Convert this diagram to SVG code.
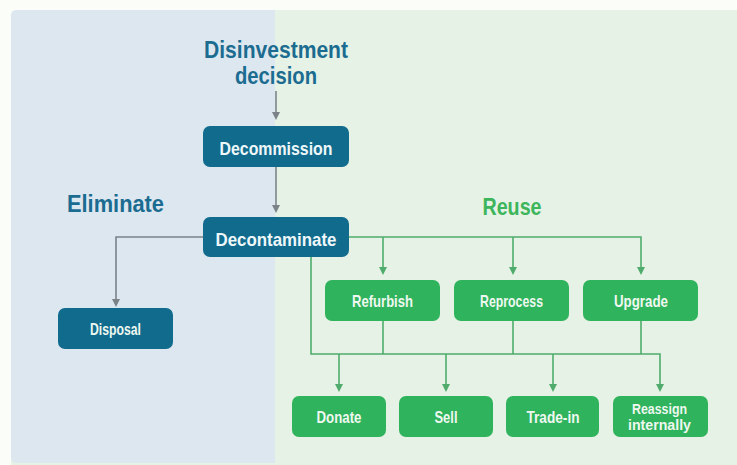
<svg xmlns="http://www.w3.org/2000/svg" width="737" height="465" viewBox="0 0 737 465">
<style>
.t{font-family:"Liberation Sans",Arial,sans-serif;font-weight:bold;text-anchor:middle}
.hb{fill:#1b6c90;font-size:24px}
.hg{fill:#3cb55b;font-size:24px}
.bb{fill:#106b8d}
.gb{fill:#2fb35c}
.lb{fill:#eef7fa;font-size:19px}
.ls{fill:#eef8f0;font-size:17px}
.cg{fill:none;stroke:#7b8389;stroke-width:1.6}
.cn{fill:none;stroke:#4fac6d;stroke-width:1.6}
</style>
<rect x="0" y="0" width="737" height="465" fill="#fbfdf9"/>
<g id="background">
<path d="M17,10 H737 V465 H11 V16 Q11,10 17,10 Z" fill="#e6f2e6"/>
<path d="M17,10 H275 V463 H17 Q11,463 11,457 V16 Q11,10 17,10 Z" fill="#dde7ef"/>
</g>
<g id="connectors">
<path class="cg" d="M276,91 V113"/>
<path d="M272,112 L280,112 L276,120 Z" fill="#7b8389"/>
<path class="cg" d="M276,167 V206"/>
<path d="M272,205 L280,205 L276,213 Z" fill="#7b8389"/>
<path class="cg" d="M203,237 H116 V300"/>
<path d="M112,299 L120,299 L116,307 Z" fill="#7b8389"/>
<path class="cn" d="M349,237 H641 V268"/>
<path class="cn" d="M383,237 V268"/>
<path class="cn" d="M513,237 V268"/>
<path d="M379,267 L387,267 L383,275 Z" fill="#4fac6d"/>
<path d="M509,267 L517,267 L513,275 Z" fill="#4fac6d"/>
<path d="M637,267 L645,267 L641,275 Z" fill="#4fac6d"/>
<path class="cn" d="M311,257 V354 H660 V385"/>
<path class="cn" d="M383,321 V354"/>
<path class="cn" d="M513,321 V354"/>
<path class="cn" d="M641,321 V354"/>
<path class="cn" d="M339,354 V385"/>
<path class="cn" d="M446,354 V385"/>
<path class="cn" d="M553,354 V385"/>
<path d="M335,384 L343,384 L339,392 Z" fill="#4fac6d"/>
<path d="M442,384 L450,384 L446,392 Z" fill="#4fac6d"/>
<path d="M549,384 L557,384 L553,392 Z" fill="#4fac6d"/>
<path d="M656,384 L664,384 L660,392 Z" fill="#4fac6d"/>
</g>
<g id="disinvestment">
<text class="t hb" x="276" y="58" textLength="144" lengthAdjust="spacingAndGlyphs">Disinvestment</text>
<text class="t hb" x="276" y="84" textLength="82" lengthAdjust="spacingAndGlyphs">decision</text>
</g>
<g id="eliminate">
<text class="t hb" x="115.5" y="212" textLength="97" lengthAdjust="spacingAndGlyphs">Eliminate</text>
</g>
<g id="reuse">
<text class="t hg" x="512" y="215" textLength="59" lengthAdjust="spacingAndGlyphs">Reuse</text>
</g>
<g id="decommission">
<rect class="bb" x="203" y="126" width="146" height="41" rx="7"/>
<text class="t lb" x="276" y="155" textLength="113" lengthAdjust="spacingAndGlyphs">Decommission</text>
</g>
<g id="decontaminate">
<rect class="bb" x="203" y="217" width="146" height="40" rx="7"/>
<text class="t lb" x="276" y="246" textLength="121" lengthAdjust="spacingAndGlyphs">Decontaminate</text>
</g>
<g id="disposal">
<rect class="bb" x="58" y="308" width="115" height="41" rx="7"/>
<text class="t ls" x="115.5" y="335" textLength="51" lengthAdjust="spacingAndGlyphs">Disposal</text>
</g>
<g id="refurbish">
<rect class="gb" x="325" y="280" width="115" height="41" rx="7"/>
<text class="t ls" x="382.5" y="307" textLength="61" lengthAdjust="spacingAndGlyphs">Refurbish</text>
</g>
<g id="reprocess">
<rect class="gb" x="454" y="280" width="115" height="41" rx="7"/>
<text class="t ls" x="511.5" y="307" textLength="63" lengthAdjust="spacingAndGlyphs">Reprocess</text>
</g>
<g id="upgrade">
<rect class="gb" x="583" y="280" width="115" height="41" rx="7"/>
<text class="t ls" x="641" y="307" textLength="54" lengthAdjust="spacingAndGlyphs">Upgrade</text>
</g>
<g id="donate">
<rect class="gb" x="292" y="396" width="94" height="41" rx="7"/>
<text class="t ls" x="339" y="423" textLength="45" lengthAdjust="spacingAndGlyphs">Donate</text>
</g>
<g id="sell">
<rect class="gb" x="399" y="396" width="94" height="41" rx="7"/>
<text class="t ls" x="446" y="423" textLength="23" lengthAdjust="spacingAndGlyphs">Sell</text>
</g>
<g id="tradein">
<rect class="gb" x="506" y="396" width="93" height="41" rx="7"/>
<text class="t ls" x="553" y="423" textLength="53" lengthAdjust="spacingAndGlyphs">Trade-in</text>
</g>
<g id="reassign">
<rect class="gb" x="613" y="396" width="95" height="41" rx="7"/>
<text class="t ls" x="659.5" y="414" style="font-size:15px" textLength="55" lengthAdjust="spacingAndGlyphs">Reassign</text>
<text class="t ls" x="659.5" y="430" style="font-size:15px" textLength="63" lengthAdjust="spacingAndGlyphs">internally</text>
</g>
</svg>
